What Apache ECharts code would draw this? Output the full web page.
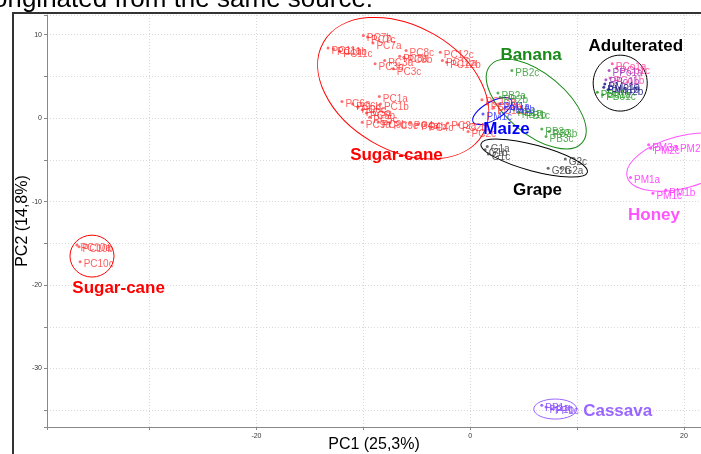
<!DOCTYPE html>
<html><head><meta charset="utf-8">
<script src="https://cdn.jsdelivr.net/npm/echarts@6/dist/echarts.min.js"></script>
<style>html,body{margin:0;padding:0;background:#fff;overflow:hidden}#c{width:701px;height:454px}</style>
</head><body><div id="c"></div><script>
// axis extents and tick labels
const X_MIN = -39.6, X_MAX = 21.6, Y_MIN = -37.0, Y_MAX = 12.35;
const xTickLabels = [-20, 0, 20];
const yTickLabels = [-30, -20, -10, 0, 10];

// scores [PC1, PC2, sample]
const sugarCane = [
  [-10.0, 9.9, 'PC7b'], [-9.6, 9.7, 'PC7c'], [-9.1, 9.0, 'PC7a'],
  [-13.3, 8.4, 'PC11a'], [-12.8, 8.3, 'PC11b'], [-12.2, 8.0, 'PC11c'],
  [-6.0, 8.1, 'PC8c'], [-6.6, 7.4, 'PC8a'], [-6.2, 7.3, 'PC8b'],
  [-8.0, 6.9, 'PC3a'], [-8.9, 6.5, 'PC3b'], [-7.2, 5.9, 'PC3c'],
  [-2.8, 7.9, 'PC12c'], [-2.6, 6.9, 'PC12a'], [-2.2, 6.7, 'PC12b'],
  [-8.5, 2.6, 'PC1a'], [-8.4, 1.7, 'PC1b'], [-12.0, 2.0, 'PC6a'], [-11.0, 1.7, 'PC6b'], [-10.5, 1.3, 'PC6c'],
  [-10.1, 1.0, 'PC5a'], [-9.7, 0.6, 'PC5b'], [-9.4, 0.1, 'PC5c'],
  [-10.1, -0.5, 'PC9a'], [-8.6, -0.5, 'PC9b'], [-7.5, -0.6, 'PC9c'],
  [-5.6, -0.6, 'PC4a'], [-4.9, -0.7, 'PC4b'], [-4.2, -0.8, 'PC4c'],
  [-2.1, -0.6, 'PC2a'], [-1.1, -0.8, 'PC2b'], [-0.2, -1.6, 'PC2c'],
  [1.1, 2.2, 'PC13a'], [1.6, 1.7, 'PC13b'], [2.2, 1.2, 'PC13c'],
  [-36.8, -15.2, 'PC10a'], [-36.6, -15.4, 'PC10b'], [-36.5, -17.2, 'PC10c']
];
const banana = [
  [3.9, 5.7, 'PB2c'], [2.6, 3.0, 'PB2a'], [2.8, 2.5, 'PB2b'],
  [4.1, 1.0, 'PB1a'], [4.5, 0.7, 'PB1b'], [4.9, 0.6, 'PB1c'],
  [6.7, -1.3, 'PB3a'], [7.4, -1.6, 'PB3b'], [7.1, -2.2, 'PB3c']
];
const maize = [[1.2, 0.5, 'PM1c'], [2.8, 1.7, 'PM1a'], [3.3, 1.3, 'PM1b']];
const grape = [
  [1.6, -3.4, 'G1a'], [1.4, -3.8, 'G1b'], [1.7, -4.3, 'G1c'],
  [8.9, -4.9, 'G2c'], [8.5, -6.0, 'G2a'], [7.3, -6.0, 'G2b']
];
const honey = [
  [16.7, -3.2, 'PM3a'], [16.9, -3.6, 'PM2c'], [19.3, -3.4, 'PM2b'],
  [15.0, -7.1, 'PM1a'], [18.3, -8.6, 'PM1b'], [17.1, -9.0, 'PM1c']
];
const cassava = [[6.7, -34.4, 'PP1a'], [7.1, -34.6, 'PP1b'], [7.6, -34.8, 'PP1c']];
const adultCane = [[13.3, 6.5, 'PCo1a'], [13.7, 6.0, 'PCo1c'], [13.1, 4.8, 'PCo1b']];
const adultCassava = [[13.0, 5.7, 'PPo1a'], [12.7, 4.6, 'PPo1b']];
const adultMaize = [[12.6, 4.1, 'PMo1a'], [12.5, 3.7, 'PMo1b'], [12.9, 3.4, 'PMo2b']];
const adultBanana = [[11.9, 3.1, 'PBo1a'], [12.4, 2.8, 'PBo1c']];

// confidence ellipses [cx, cy, rx (PC1 units), ry (PC2 units), tilt deg, group]
const ellipses = [
  [-6.27, 3.59, 8.61, 7.43, -30, 'Sugar-cane'],
  [6.18, 1.68, 5.62, 3.59, -40, 'Banana'],
  [2.06, 0.84, 2.06, 1.08, 30, 'Maize'],
  [5.99, -4.79, 5.15, 1.56, -15, 'Grape'],
  [14.04, 4.19, 2.53, 3.35, 0, 'Adulterated'],
  [19.85, -5.27, 5.34, 3.11, 15, 'Honey'],
  [7.96, -34.85, 2.01, 1.20, 0, 'Cassava'],
  [-35.39, -16.53, 2.06, 2.51, 0, 'Sugar-cane']
];

// group captions [x, y, text]
const groupTitles = [
  [-6.9, -4.4, 'Sugar-cane'], [5.7, 7.5, 'Banana'], [15.5, 8.6, 'Adulterated'],
  [3.4, -1.4, 'Maize'], [6.3, -8.6, 'Grape'], [17.2, -11.6, 'Honey'],
  [-32.9, -20.4, 'Sugar-cane'], [13.8, -35.1, 'Cassava']
];

const groupColor = {
  'Sugar-cane': '#ff0000', 'Banana': '#1a8a1a', 'Adulterated': '#000000', 'Maize': '#0000ff',
  'Grape': '#000000', 'Honey': '#ff55ff', 'Cassava': '#9966ff'
};

function near(v, list) { return list.some(t => Math.abs(v - t) < 1e-6); }

function pointSeries(data, markerColor, labelColor) {
  return {
    type: 'scatter', data: data, symbol: 'circle', symbolSize: 3,
    itemStyle: { color: markerColor, opacity: 1 }, silent: true, animation: false, z: 3,
    label: { show: true, position: 'right', distance: 2, offset: [0, 3],
      formatter: p => p.data[2], fontSize: 10, fontFamily: 'Arial', color: labelColor }
  };
}

const chart = echarts.init(document.getElementById('c'), null, { renderer: 'canvas' });
chart.setOption({
  animation: false,
  backgroundColor: '#fff',
  grid: { left: 47, right: 0, top: 15, bottom: 27, containLabel: false, outerBoundsMode: 'none' },
  xAxis: {
    type: 'value', min: X_MIN, max: X_MAX, splitNumber: 6,
    axisLine: { show: true, onZero: false, lineStyle: { color: '#888', width: 1 } },
    axisTick: { show: true, length: 3, lineStyle: { color: '#888' } },
    axisLabel: { fontSize: 7, color: '#333', margin: 6, fontFamily: 'Arial',
      formatter: v => near(v, xTickLabels) ? String(Math.round(v)) : '' },
    splitLine: { show: true, lineStyle: { color: '#d8d8d8', type: [1, 2] } },
    name: 'PC1 (25,3%)', nameLocation: 'middle', nameGap: 10, nameMoveOverlap: false,
    nameTextStyle: { fontSize: 16, color: '#000', fontFamily: 'Arial' }
  },
  yAxis: {
    type: 'value', min: Y_MIN, max: Y_MAX, splitNumber: 10,
    axisLine: { show: true, onZero: false, lineStyle: { color: '#888', width: 1 } },
    axisTick: { show: true, length: 3, lineStyle: { color: '#888' } },
    axisLabel: { fontSize: 7, color: '#333', margin: 5, fontFamily: 'Arial',
      formatter: v => near(v, yTickLabels) ? String(Math.round(v)) : '' },
    splitLine: { show: true, lineStyle: { color: '#d8d8d8', type: [1, 2] } },
    name: 'PC2 (14,8%)', nameLocation: 'middle', nameGap: 16, nameMoveOverlap: false,
    nameTextStyle: { fontSize: 16, color: '#000', fontFamily: 'Arial' }
  },
  graphic: [
    { type: 'polyline', shape: { points: [[13, 454], [13, 13], [701, 13]] },
      style: { stroke: '#333', lineWidth: 2, fill: null }, z: 10 },
    { type: 'text', x: -7, y: 13, style: { text: 'originated from the same source.',
      font: '26px Arial', fill: '#000', verticalAlign: 'bottom', align: 'left' }, z: 10 }
  ],
  series: [
    {
      type: 'custom', silent: true, z: 2, clip: false,
      data: ellipses,
      renderItem: function (params, api) {
        const c = api.coord([api.value(0), api.value(1)]);
        const s = api.size([api.value(2), api.value(3)]);
        const g = ellipses[params.dataIndex][5];
        return {
          type: 'ellipse', x: c[0], y: c[1], rotation: api.value(4) * Math.PI / 180,
          shape: { cx: 0, cy: 0, rx: s[0], ry: s[1] },
          style: { fill: null, stroke: groupColor[g], lineWidth: 1 }
        };
      }
    },
    pointSeries(sugarCane, 'rgba(255,50,50,0.7)', 'rgba(255,30,30,0.72)'),
    pointSeries(banana, 'rgba(40,150,40,0.75)', 'rgba(40,150,40,0.8)'),
    pointSeries(maize, 'rgba(40,40,255,0.75)', 'rgba(40,40,255,0.8)'),
    pointSeries(grape, 'rgba(60,60,60,0.75)', 'rgba(60,60,60,0.85)'),
    pointSeries(honey, 'rgba(255,60,255,0.85)', 'rgba(255,60,255,0.9)'),
    pointSeries(cassava, 'rgba(140,80,255,0.85)', 'rgba(140,80,255,0.9)'),
    pointSeries(adultCane, 'rgba(255,70,160,0.85)', 'rgba(255,70,160,0.9)'),
    pointSeries(adultCassava, 'rgba(160,60,190,0.85)', 'rgba(160,60,190,0.9)'),
    pointSeries(adultMaize, 'rgba(30,30,130,0.85)', 'rgba(30,30,130,0.9)'),
    pointSeries(adultBanana, 'rgba(40,160,40,0.85)', 'rgba(40,160,40,0.9)'),
    {
      type: 'scatter', symbolSize: 0, silent: true, z: 4,
      itemStyle: { opacity: 1 },
      data: groupTitles.map(d => ({ value: d, label: { color: groupColor[d[2]] } })),
      label: { show: true, position: 'inside', formatter: p => p.data.value[2],
        fontSize: 17, fontWeight: 'bold', fontFamily: 'Arial' }
    }
  ]
});
</script></body></html>
